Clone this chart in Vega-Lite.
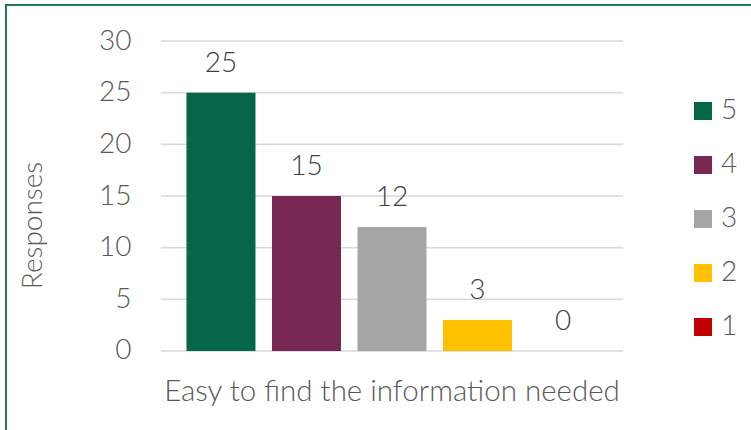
{
  "$schema": "https://vega.github.io/schema/vega-lite/v6.json",
  "autosize": {"type": "none"},
  "width": 760,
  "height": 440,
  "padding": {"left": 6, "top": 5, "right": 0, "bottom": 0},
  "background": "white",
  "datasets": {
    "bars": [
      {"question": "Easy to find the information needed", "rating": "5", "responses": 25},
      {"question": "Easy to find the information needed", "rating": "4", "responses": 15},
      {"question": "Easy to find the information needed", "rating": "3", "responses": 12},
      {"question": "Easy to find the information needed", "rating": "2", "responses": 3},
      {"question": "Easy to find the information needed", "rating": "1", "responses": 0}
    ],
    "grid": [
      {"question": "Easy to find the information needed", "responses": 0},
      {"question": "Easy to find the information needed", "responses": 5},
      {"question": "Easy to find the information needed", "responses": 10},
      {"question": "Easy to find the information needed", "responses": 15},
      {"question": "Easy to find the information needed", "responses": 20},
      {"question": "Easy to find the information needed", "responses": 25},
      {"question": "Easy to find the information needed", "responses": 30}
    ]
  },
  "encoding": {
    "x": {"field": "question", "type": "nominal", "title": null,
      "scale": {"paddingInner": 0, "paddingOuter": 0.3225, "align": 0.5201},
      "axis": {"labelAngle": 0, "ticks": false, "domain": false, "grid": false, "offset": -94, "labelPadding": 26,
        "labelBaseline": "top", "labelFontSize": 29.5, "labelColor": "#595959", "labelFont": "Lato", "labelFontWeight": 300, "labelLimit": 700}},
    "y": {"field": "responses", "type": "quantitative", "title": "Responses",
      "scale": {"domain": [-9.0968, 33.4839], "nice": false, "zero": false},
      "axis": {"values": [0, 5, 10, 15, 20, 25, 30], "ticks": false, "domain": false, "grid": false,
        "offset": -155, "labelPadding": 30,
        "labelFontSize": 28, "labelColor": "#595959", "labelFont": "Lato", "labelFontWeight": 300,
        "titleFontSize": 28, "titleColor": "#595959", "titleFont": "Lato", "titleFontWeight": 300,
        "titleAngle": -90, "titleAlign": "center", "titleBaseline": "middle", "titleX": -128, "titleY": 220}}
  },
  "layer": [
    {"data": {"name": "grid"},
      "mark": {"type": "rule", "color": "#D9D9D9", "strokeWidth": 1.5},
      "encoding": {
        "x": {"field": "question", "type": "nominal", "bandPosition": 0},
        "x2": {"field": "question", "bandPosition": 1}
      }},
    {"data": {"name": "bars"},
      "mark": {"type": "bar"},
      "encoding": {
        "xOffset": {"field": "rating", "type": "nominal", "sort": ["5", "4", "3", "2", "1"],
          "scale": {"paddingInner": 0.193, "paddingOuter": 0.298}},
        "y2": {"datum": 0},
        "color": {"field": "rating", "type": "nominal", "sort": ["5", "4", "3", "2", "1"],
          "scale": {"domain": ["5", "4", "3", "2", "1"], "range": ["#06664A", "#762852", "#A5A5A5", "#FFC000", "#C00000"]},
          "legend": {"title": null, "orient": "none", "legendX": 683, "legendY": 92,
            "symbolType": "square", "symbolSize": 324, "symbolStrokeWidth": 0, "symbolOpacity": 1,
            "labelFontSize": 28, "labelColor": "#595959", "labelFont": "Lato", "labelFontWeight": 300, "labelOffset": 4, "rowPadding": 26}}
      }},
    {"data": {"name": "bars"},
      "mark": {"type": "text", "baseline": "middle", "dy": -29, "fontSize": 28, "font": "Lato", "fontWeight": 300, "color": "#404040"},
      "encoding": {
        "xOffset": {"field": "rating", "type": "nominal", "sort": ["5", "4", "3", "2", "1"],
          "scale": {"paddingInner": 0.193, "paddingOuter": 0.298}},
        "text": {"field": "responses", "type": "quantitative"}}}
  ],
  "config": {"view": {"stroke": "#1E7B5A", "strokeWidth": 2}}
}
